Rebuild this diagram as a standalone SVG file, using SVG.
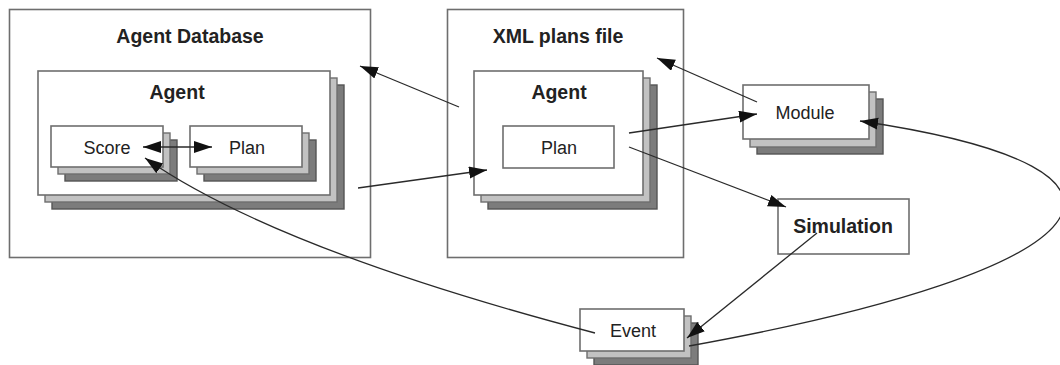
<svg xmlns="http://www.w3.org/2000/svg" width="1060" height="365" viewBox="0 0 1060 365">
<style>
.bg{fill:#ffffff}
.box{fill:#ffffff;stroke:#6e6e6e;stroke-width:1.6}
.l1{fill:#c2c2c2;stroke:#6e6e6e;stroke-width:1.4}
.l2{fill:#7c7c7c;stroke:#555555;stroke-width:1.4}
.t{font-family:"Liberation Sans",Arial,sans-serif;font-size:18px;fill:#222;text-anchor:middle}
.b{font-family:"Liberation Sans",Arial,sans-serif;font-size:19.5px;font-weight:bold;fill:#222;text-anchor:middle}
.c{fill:none;stroke:#2a2a2a;stroke-width:1.3}
</style>
<defs>
<marker id="ah" markerUnits="userSpaceOnUse" markerWidth="19" markerHeight="13" refX="18" refY="6" orient="auto-start-reverse">
<path d="M0,0 L18,6 L0,12 z" fill="#111"/>
</marker>
</defs>
<rect class="bg" x="0" y="0" width="1060" height="365"/>

<g id="agent-database">
<rect class="box" x="9.5" y="9.5" width="361" height="248"/>
<text class="b" x="190" y="43">Agent Database</text>
</g>
<g id="agent-left">
<rect class="l2" x="52" y="85" width="292" height="124"/>
<rect class="l1" x="45" y="78" width="292" height="124"/>
<rect class="box" x="38" y="71" width="292" height="124"/>
<text class="b" x="177" y="99">Agent</text>
</g>
<g id="score">
<rect class="l2" x="65" y="140" width="112" height="41"/>
<rect class="l1" x="58" y="133" width="112" height="41"/>
<rect class="box" x="51" y="126" width="112" height="41"/>
<text class="t" x="107" y="154">Score</text>
</g>
<g id="plan-left">
<rect class="l2" x="204" y="140" width="112" height="41"/>
<rect class="l1" x="197" y="133" width="112" height="41"/>
<rect class="box" x="190" y="126" width="112" height="41"/>
<text class="t" x="247" y="154">Plan</text>
</g>

<g id="xml-plans-file">
<rect class="box" x="447.5" y="9.5" width="236" height="248"/>
<text class="b" x="558" y="43">XML plans file</text>
</g>
<g id="agent-xml">
<rect class="l2" x="488" y="85" width="169" height="124"/>
<rect class="l1" x="481" y="78" width="169" height="124"/>
<rect class="box" x="474" y="71" width="169" height="124"/>
<text class="b" x="559" y="99">Agent</text>
</g>
<g id="plan-xml">
<rect class="box" x="503" y="126" width="111" height="42"/>
<text class="t" x="559" y="154">Plan</text>
</g>

<g id="module">
<rect class="l2" x="757" y="99" width="126" height="55"/>
<rect class="l1" x="750" y="92" width="126" height="55"/>
<rect class="box" x="743" y="85" width="126" height="54"/>
<text class="t" x="805" y="119">Module</text>
</g>
<g id="simulation">
<rect class="box" x="778" y="199" width="131" height="55"/>
<text class="b" x="843" y="233">Simulation</text>
</g>
<g id="event">
<rect class="l2" x="594" y="323" width="104" height="42"/>
<rect class="l1" x="587" y="316" width="104" height="42"/>
<rect class="box" x="580" y="309" width="104" height="42"/>
<text class="t" x="633" y="337">Event</text>
</g>

<g id="connectors">
<line class="c" x1="459" y1="107" x2="360" y2="66" marker-end="url(#ah)"/>
<line class="c" x1="358" y1="188" x2="487" y2="170" marker-end="url(#ah)"/>
<line class="c" x1="143" y1="147" x2="212" y2="147" marker-start="url(#ah)" marker-end="url(#ah)"/>
<line class="c" x1="629" y1="133" x2="757" y2="114" marker-end="url(#ah)"/>
<line class="c" x1="629" y1="147" x2="786" y2="207" marker-end="url(#ah)"/>
<line class="c" x1="757" y1="102" x2="657" y2="58" marker-end="url(#ah)"/>
<line class="c" x1="817" y1="233" x2="687" y2="338" marker-end="url(#ah)"/>
<path class="c" d="M595,333 Q275,249 145,158" marker-end="url(#ah)"/>
<path class="c" d="M689,346 C1110,270 1190,170 860,121" marker-end="url(#ah)"/>
</g>
</svg>
